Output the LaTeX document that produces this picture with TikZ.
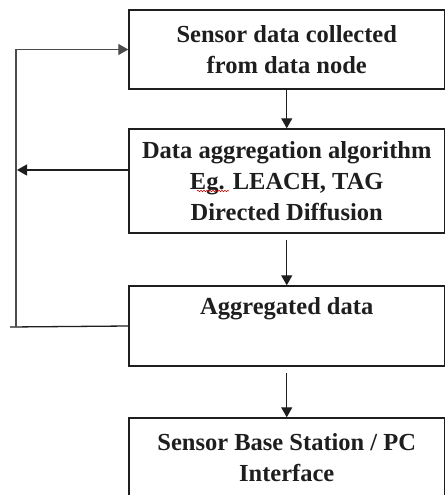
\documentclass[tikz,border=0pt]{standalone}
\usepackage{fontspec}
\setmainfont{Liberation Serif}
\usetikzlibrary{arrows.meta,decorations.pathmorphing}
\definecolor{ink}{HTML}{1E1E1E}
\tikzset{
  flowbox/.style={draw=ink, line width=1.4pt, minimum width=315.5pt, align=center,
    inner sep=0pt, text=ink, font=\fontsize{24.5}{31}\selectfont\bfseries},
  link/.style={draw=ink, line width=1.3pt},
  tip/.style={-{Triangle[length=10pt,width=11pt]}}
}
\begin{document}
\begin{tikzpicture}[x=1pt,y=1pt]
\useasboundingbox (0,0) rectangle (445,-495);
\node[flowbox, minimum height=79pt] (collect) at (286.75,-49.5) {Sensor data collected\\from data node};
\node[flowbox, minimum height=104pt] (algo) at (286.75,-181) {Data aggregation algorithm\\Eg. LEACH, TAG\\Directed Diffusion};
\node[flowbox, minimum height=80pt] (agg) at (286.75,-326) {Aggregated data\\\strut};
\node[flowbox, minimum height=80pt] (base) at (286.75,-458) {Sensor Base Station / PC\\Interface};
% downward flow
\draw[link, tip] (collect.south) -- (algo.north);
\draw[link, tip] ([yshift=-6pt]algo.south) -- (agg.north);
\draw[link, tip] ([yshift=-6pt]agg.south) -- (base.north);
% feedback loop on the left
\coordinate (loopfoot) at (16,-327);
\coordinate (loopend) at (10,-327);
\coordinate (looptap) at (17,-170);
\draw[link] (agg.west) -- (loopend);
\draw[link, draw=ink!80, tip] (loopfoot) |- (collect.west);
\draw[link, tip] ([yshift=11pt]algo.west) -- (looptap);
% spell-check squiggle under "Eg"
\draw[red!80!black, line width=0.5pt, decorate, decoration={snake, amplitude=0.8pt, segment length=3pt}] (197,-191) -- (229,-191);
\end{tikzpicture}
\end{document}
